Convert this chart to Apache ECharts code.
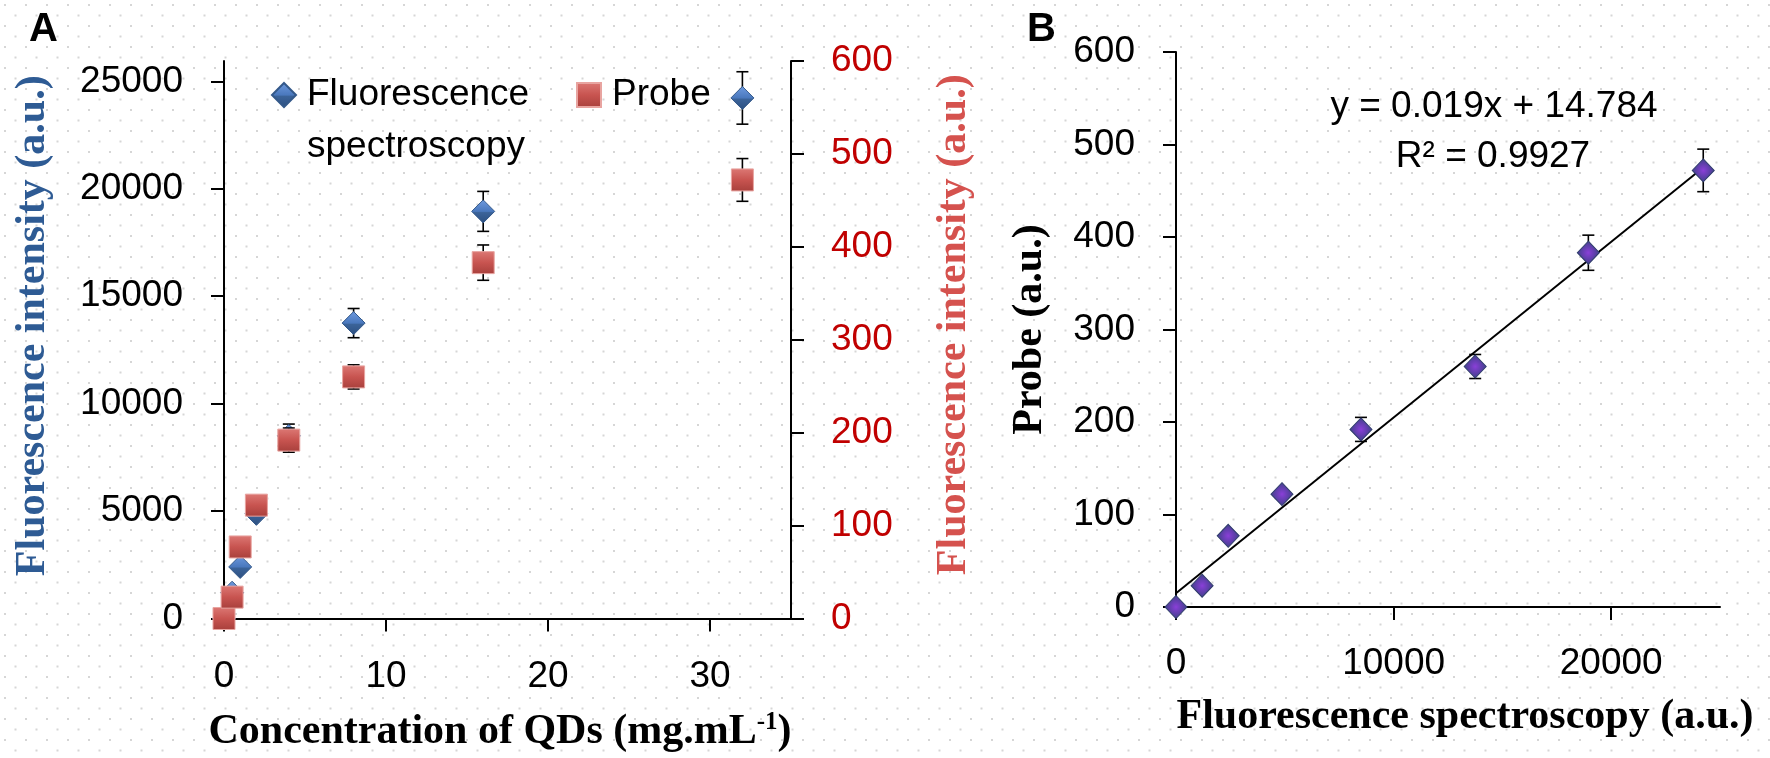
<!DOCTYPE html>
<html>
<head>
<meta charset="utf-8">
<script src="https://cdn.jsdelivr.net/npm/echarts@6/dist/echarts.min.js"></script>
<style>
html,body{margin:0;padding:0;background:#fff;}
#chart{width:1770px;height:758px;}
</style>
</head>
<body>
<div id="chart"></div>
<script>
// ---- data ----
const concentrations = [0, 0.5, 1, 2, 4, 8, 16, 32];            // mg/mL
const fluorescence   = [0, 1200, 2400, 4870, 8500, 13750, 18950, 24230];
const fluorescenceErr= [0, 0, 0, 0, 550, 680, 930, 1220];
const probe          = [0, 23, 77, 122, 192, 260, 383, 472];
const probeErr       = [0, 0, 0, 0, 13, 13, 19, 23];
const leftTicks      = [0, 5000, 10000, 15000, 20000, 25000];
const fitSlope = 0.019, fitIntercept = 14.784, fitR2 = 0.9927;

// ---- styles ----
const SANS = 'Liberation Sans';
const SERIF = 'Liberation Serif';
const LBL = 37;
const plain = v => String(v);
const axisLine = {show: true, onZero: false, lineStyle: {color: '#000', width: 2}};
const axisTick = {show: true, inside: false, length: 13, lineStyle: {color: '#000', width: 2}};

// dotted background pattern
const tile = document.createElement('canvas');
tile.width = 21; tile.height = 21;
const tctx = tile.getContext('2d');
tctx.fillStyle = '#fff'; tctx.fillRect(0, 0, 21, 21);
tctx.fillStyle = '#d6d6d6';
tctx.fillRect(4, 4, 2, 2);
tctx.fillRect(14.5, 14.5, 2, 2);

const blueFill = {type: 'linear', x: 0, y: 0, x2: 0, y2: 1, colorStops: [
  {offset: 0, color: '#6f9be0'}, {offset: 0.5, color: '#4a78bd'}, {offset: 0.55, color: '#3b6399'}, {offset: 1, color: '#2c4f80'}]};
const redFill = {type: 'linear', x: 0, y: 0, x2: 0, y2: 1, colorStops: [
  {offset: 0, color: '#dc7874'}, {offset: 0.5, color: '#c85450'}, {offset: 1, color: '#a8403c'}]};
const purpleFill = {type: 'radial', x: 0.5, y: 0.5, r: 0.6, colorStops: [
  {offset: 0, color: '#8a3fd8'}, {offset: 0.5, color: '#5c3fa8'}, {offset: 1, color: '#34457a'}]};

function errorBars(xs, ys, errs, xAxisIndex, yAxisIndex, z) {
  return {
    type: 'custom', xAxisIndex, yAxisIndex, z, silent: true,
    encode: {x: 0, y: [1, 2]},
    data: xs.map((x, i) => [x, ys[i] - errs[i], ys[i] + errs[i]]),
    renderItem(params, api) {
      const x = api.value(0);
      const lo = api.coord([x, api.value(1)]);
      const hi = api.coord([x, api.value(2)]);
      const w = 6;
      const st = {stroke: '#000', lineWidth: 1.6};
      return {type: 'group', children: [
        {type: 'line', shape: {x1: lo[0], y1: lo[1], x2: hi[0], y2: hi[1]}, style: st},
        {type: 'line', shape: {x1: lo[0] - w, y1: lo[1], x2: lo[0] + w, y2: lo[1]}, style: st},
        {type: 'line', shape: {x1: hi[0] - w, y1: hi[1], x2: hi[0] + w, y2: hi[1]}, style: st}
      ]};
    }
  };
}

const fitX = [0, Math.max(...fluorescence)];
const fitData = fitX.map(x => [x, fitIntercept + fitSlope * x]);

const chart = echarts.init(document.getElementById('chart'), null, {renderer: 'canvas'});
chart.setOption({
  animation: false,
  backgroundColor: {image: tile, repeat: 'repeat'},
  textStyle: {fontFamily: SANS},
  grid: [
    {left: 224, right: 979, top: 61, bottom: 138},
    {left: 1176, right: 50, top: 52, bottom: 151}
  ],
  legend: [
    {
      left: 271, top: 17, padding: 0, itemWidth: 24, itemHeight: 24, itemGap: 10,
      data: [{name: 'Fluorescence spectroscopy', icon: 'diamond'}],
      formatter: n => '\n' + n.replace(' ', '\n'),
      textStyle: {fontFamily: SANS, fontSize: LBL, lineHeight: 52, color: '#000', padding: [0, 0, 0, 6]}
    },
    {
      left: 576, top: 69, padding: 0, itemWidth: 24, itemHeight: 24,
      data: [{name: 'Probe', icon: 'rect'}],
      textStyle: {fontFamily: SANS, fontSize: LBL, lineHeight: 52, color: '#000', padding: [0, 0, 0, 6]}
    }
  ],
  xAxis: [
    {
      gridIndex: 0, type: 'value', min: 0, max: 35, interval: 10,
      axisLine, axisTick, splitLine: {show: false},
      axisLabel: {fontFamily: SANS, fontSize: LBL, color: '#000', margin: 40, showMaxLabel: false, formatter: plain},
      name: '{a|Concentration of QDs (mg.mL}{b|-1}{a|)}', nameLocation: 'middle', nameGap: 92,
      nameTextStyle: {padding: [0, 15, 0, 0], rich: {
        a: {fontFamily: SERIF, fontWeight: 'bold', fontSize: 42, color: '#000'},
        b: {fontFamily: SERIF, fontWeight: 'bold', fontSize: 25, color: '#000', verticalAlign: 'top', padding: [0, 0, 18, 0]}
      }}
    },
    {
      gridIndex: 1, type: 'value', min: 0, max: 25000, interval: 10000,
      axisLine, axisTick, splitLine: {show: false},
      axisLabel: {fontFamily: SANS, fontSize: LBL, color: '#000', margin: 38, showMaxLabel: false, formatter: plain},
      name: 'Fluorescence spectroscopy (a.u.)', nameLocation: 'middle', nameGap: 89,
      nameTextStyle: {fontFamily: SERIF, fontWeight: 'bold', fontSize: 42, color: '#000', padding: [0, 0, 0, 34]}
    }
  ],
  yAxis: [
    {
      gridIndex: 0, type: 'value', position: 'left', min: 0, max: 25950,
      axisLine, splitLine: {show: false},
      axisTick: Object.assign({}, axisTick, {customValues: leftTicks}),
      axisLabel: {fontFamily: SANS, fontSize: LBL, color: '#000', margin: 41, customValues: leftTicks, formatter: plain},
      name: 'Fluorescence intensity (a.u.)', nameLocation: 'middle', nameGap: 170,
      nameTextStyle: {fontFamily: SERIF, fontWeight: 'bold', fontSize: 42, color: '#2e5b94', padding: [0, 0, 0, 28]}
    },
    {
      gridIndex: 0, type: 'value', position: 'right', min: 0, max: 600, interval: 100,
      axisLine, axisTick, splitLine: {show: false},
      axisLabel: {fontFamily: SANS, fontSize: LBL, color: '#c00000', margin: 40, formatter: plain},
      name: 'Fluorescence intensity (a.u.)', nameLocation: 'middle', nameGap: 142,
      nameTextStyle: {fontFamily: SERIF, fontWeight: 'bold', fontSize: 42, color: '#d5524e', padding: [0, 0, 0, 30]}
    },
    {
      gridIndex: 1, type: 'value', min: 0, max: 600, interval: 100,
      axisLine, axisTick, splitLine: {show: false},
      axisLabel: {fontFamily: SANS, fontSize: LBL, color: '#000', margin: 41, formatter: plain},
      name: 'Probe (a.u.)', nameLocation: 'middle', nameGap: 125,
      nameTextStyle: {fontFamily: SERIF, fontWeight: 'bold', fontSize: 42, color: '#000'}
    }
  ],
  series: [
    errorBars(concentrations, fluorescence, fluorescenceErr, 0, 0, 2),
    {
      name: 'Fluorescence spectroscopy', type: 'scatter', xAxisIndex: 0, yAxisIndex: 0, z: 3,
      symbol: 'diamond', symbolSize: [23, 23],
      itemStyle: {color: blueFill, borderColor: '#34598a', borderWidth: 1, opacity: 1},
      data: concentrations.map((c, i) => [c, fluorescence[i]])
    },
    errorBars(concentrations, probe, probeErr, 0, 1, 4),
    {
      name: 'Probe', type: 'scatter', xAxisIndex: 0, yAxisIndex: 1, z: 5,
      symbol: 'rect', symbolSize: [22, 22],
      itemStyle: {color: redFill, borderColor: '#e8a4a0', borderWidth: 1, opacity: 1},
      data: concentrations.map((c, i) => [c, probe[i]])
    },
    {
      name: 'Linear fit', type: 'line', xAxisIndex: 1, yAxisIndex: 2, z: 2,
      symbol: 'none', silent: true,
      lineStyle: {color: '#000', width: 2},
      data: fitData
    },
    errorBars(fluorescence, probe, probeErr, 1, 2, 3),
    {
      name: 'Probe vs fluorescence', type: 'scatter', xAxisIndex: 1, yAxisIndex: 2, z: 4,
      symbol: 'diamond', symbolSize: [22, 23],
      itemStyle: {color: purpleFill, borderColor: '#2f3d6b', borderWidth: 1, opacity: 1},
      data: fluorescence.map((f, i) => [f, probe[i]])
    }
  ],
  graphic: [
    {type: 'text', left: 29, top: 10, style: {text: 'A', font: 'bold 40px "Liberation Sans"', fill: '#000'}},
    {type: 'text', left: 1027, top: 10, style: {text: 'B', font: 'bold 40px "Liberation Sans"', fill: '#000'}},
    {type: 'text', x: 1494, y: 107, style: {text: 'y = ' + fitSlope + 'x + ' + fitIntercept, font: '37px "Liberation Sans"', fill: '#000', align: 'center', verticalAlign: 'middle'}},
    {type: 'text', x: 1493, y: 157, style: {text: 'R² = ' + fitR2, font: '37px "Liberation Sans"', fill: '#000', align: 'center', verticalAlign: 'middle'}}
  ]
});
</script>
</body>
</html>
